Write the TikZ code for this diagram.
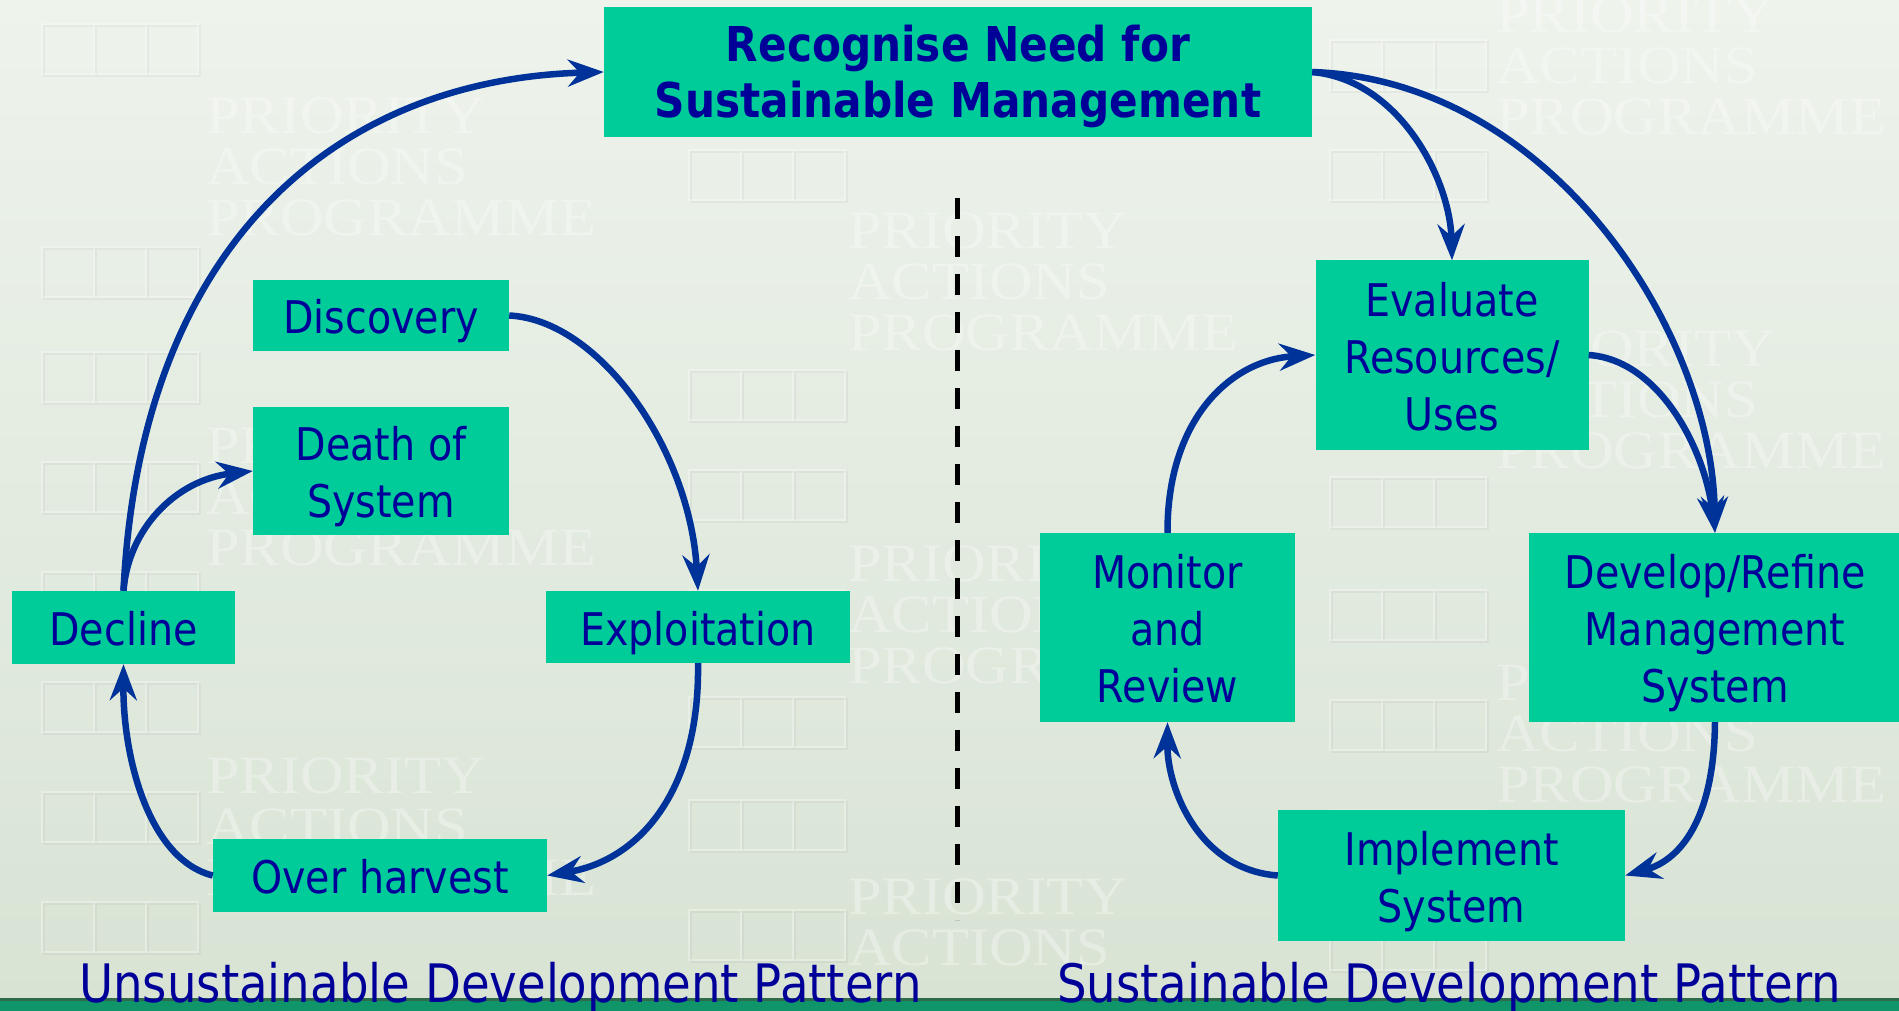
\documentclass[tikz,border=0pt]{standalone}
\usepackage{fontspec}
\setmainfont{DejaVu Sans}[FakeStretch=0.88]
\newfontfamily\wmfont{Liberation Serif}[FakeStretch=1.12]
\usetikzlibrary{arrows.meta}
\definecolor{boxgreen}{HTML}{00CC99}
\definecolor{textblue}{HTML}{000099}
\definecolor{arrowblue}{HTML}{003399}
\definecolor{bgtop}{HTML}{EEF3EC}
\definecolor{bgbottom}{HTML}{D8E3D4}
\definecolor{barline}{HTML}{2F6A4C}
\definecolor{bargreen}{HTML}{10946A}
\newcommand\upstrut{\rule{0pt}{48pt}}
\newcommand\downstrut{\rule[-12pt]{0pt}{12pt}}
\newcommand\wmstrut{\rule{0pt}{36pt}}
\tikzset{
  box/.style={rectangle, fill=boxgreen, inner sep=0pt, align=center, text=textblue,
    font=\fontsize{45}{57}\selectfont},
  flow/.style={draw=arrowblue, line width=6.5pt, -{Stealth[length=36pt,width=27pt,inset=12pt]}},
  wmtext/.style={inner sep=0pt, align=left, anchor=north west,
    font=\wmfont\fontsize{54}{51}\selectfont, text=white, opacity=.33},
  wmrect/.style={line width=2pt},
  caption/.style={anchor=base west, inner sep=0pt, text=textblue, font=\fontsize{53}{60}\selectfont},
  divider/.style={draw=black, line width=5pt, dash pattern=on 21pt off 17pt}
}
\begin{document}
\begin{tikzpicture}[x=1pt, y=-1pt]
\useasboundingbox (0,0) rectangle (1899,1011);
% background
\shade[top color=bgtop, bottom color=bgbottom] (0,0) rectangle (1899,1011);
% watermark grid icons
\foreach \x/\y in {42/24, 42/247, 42/352, 42/462, 42/572, 42/682, 42/792, 42/902,
                   689/40, 689/150, 689/370, 689/470, 689/590, 689/697, 689/800, 689/910,
                   1330/40, 1330/150, 1330/260, 1330/477, 1330/590, 1330/700, 1330/810, 1330/920} {
  \draw[wmrect, draw=black, opacity=.035] (\x+2,\y+2) rectangle ++(156,50)
     (\x+54,\y+2) -- ++(0,50) (\x+106,\y+2) -- ++(0,50);
  \draw[wmrect, draw=white, opacity=.3] (\x,\y) rectangle ++(156,50)
     (\x+52,\y) -- ++(0,50) (\x+104,\y) -- ++(0,50);
}
% watermark text
\foreach \x/\y [count=\i] in {206/97, 206/427, 206/757, 848/212, 848/545, 1496/-4, 1496/330, 1496/664} {
  \node[wmtext] (wm\i) at (\x,\y) {\wmstrut PRIORITY\\ACTIONS\\PROGRAMME};
}
\node[wmtext] (wm9) at (848,878) {\wmstrut PRIORITY\\ACTIONS};
% bottom bar
\fill[bargreen] (0,999) rectangle (1899,1011);
\fill[barline] (0,998) rectangle (1899,1001);
% divider
\draw[divider] (957,198) -- (957,920);
% nodes
\node[box, minimum width=708pt, minimum height=130pt,
      font=\fontsize{48}{56}\selectfont\bfseries] (top) at (958,72)
      {\upstrut Recognise Need for\\Sustainable Management\downstrut};
\node[box, minimum width=256pt, minimum height=71pt] (disc) at (381,315.5) {\upstrut Discovery\downstrut};
\node[box, minimum width=256pt, minimum height=128pt] (death) at (381,471) {\upstrut Death of\\System\downstrut};
\node[box, minimum width=223pt, minimum height=73pt] (decl) at (123.5,627.5) {\upstrut Decline\downstrut};
\node[box, minimum width=304pt, minimum height=72pt] (expl) at (698,627) {\upstrut Exploitation\downstrut};
\node[box, minimum width=334pt, minimum height=73pt] (over) at (380,875.5) {\upstrut Over harvest\downstrut};
\node[box, minimum width=273pt, minimum height=189pt] (eval) at (1452,355) {\upstrut Evaluate\\Resources/\\Uses\downstrut};
\node[box, minimum width=255pt, minimum height=189pt] (moni) at (1167.5,627.5) {\upstrut Monitor\\and\\Review\downstrut};
\node[box, minimum width=372pt, minimum height=189pt] (devel) at (1715,627.5) {\upstrut Develop/Refine\\Management\\System\downstrut};
\node[box, minimum width=347pt, minimum height=131pt] (impl) at (1451.5,875.5) {\upstrut Implement\\System\downstrut};
% captions
\node[caption] (capU) at (79,1002) {Unsustainable Development Pattern};
\node[caption] (capS) at (1057,1002) {Sustainable Development Pattern};
% connectors, left cycle
\draw[flow] (decl.north) .. controls (140,250) and (330,80) .. (top.west);
\draw[flow] (decl.north) .. controls (128,530) and (175,480) .. (death.west);
\draw[flow] (disc.east) .. controls (600,320) and (690,450) .. (expl.north);
\draw[flow] (expl.south) .. controls (700,790) and (640,860) .. (over.east);
\draw[flow] (over.west) .. controls (150,860) and (123,760) .. (decl.south);
% connectors, right cycle
\draw[flow] (top.east) .. controls (1400,80) and (1450,180) .. (eval.north);
\draw[flow] (top.east) .. controls (1550,80) and (1712,330) .. (devel.north);
\draw[flow] (eval.east) .. controls (1660,360) and (1705,450) .. (devel.north);
\draw[flow] (devel.south) .. controls (1714,820) and (1680,860) .. (impl.east);
\draw[flow] (impl.west) .. controls (1200,870) and (1167,790) .. (moni.south);
\draw[flow] (moni.north) .. controls (1167,420) and (1230,360) .. (eval.west);
\end{tikzpicture}
\end{document}
